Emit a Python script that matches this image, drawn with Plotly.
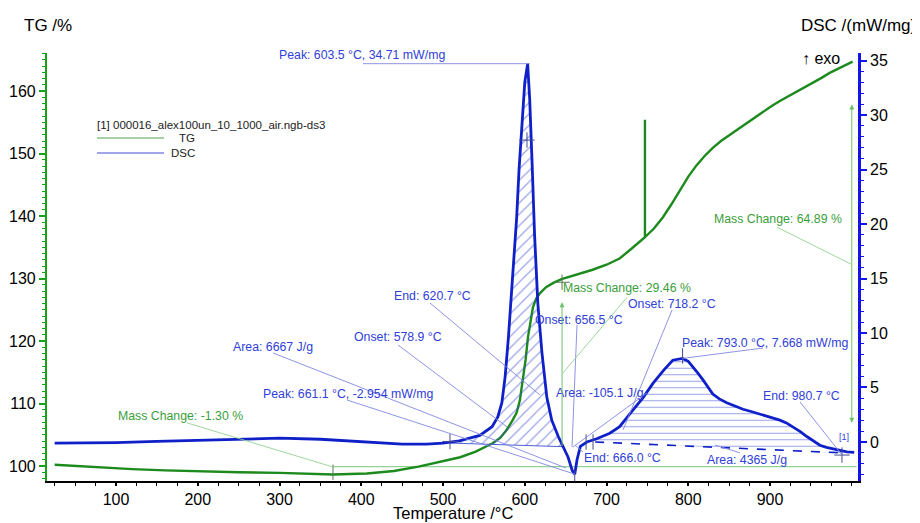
import numpy as np
import plotly.graph_objects as go

# ---------------- data ----------------
tg_T = [25, 50, 80, 120, 160, 203, 250, 300, 325, 365, 407, 440, 470, 500, 521, 540, 560, 570,
        578, 585, 590, 594, 598, 601, 604, 607, 610, 614, 619, 626, 635, 645, 655, 670, 683, 700,
        716, 729, 747, 747, 747, 758, 769, 780, 790, 800, 810, 820, 830, 840, 851, 862, 872, 882,
        891, 902, 912, 923, 933, 943, 953, 963, 973, 987, 1001]
tg = [100.2, 100.0, 99.7, 99.5, 99.3, 99.1, 99.0, 98.9, 98.85, 98.65, 98.8, 99.2, 99.9, 100.8,
      101.4, 102.3, 103.6, 104.5, 105.8, 107.3, 108.5, 110.5, 113.8, 117.0, 120.7, 123.3, 125.4,
      126.8, 127.7, 128.6, 129.3, 129.9, 130.3, 130.8, 131.4, 132.2, 133.2, 134.6, 136.6, 155.4,
      136.6, 138.0, 139.8, 142.0, 144.2, 146.3, 148.1, 149.6, 150.9, 152.0, 153.0, 154.0, 154.95,
      155.9, 156.7, 157.6, 158.4, 159.2, 159.9, 160.6, 161.3, 162.1, 162.9, 163.8, 164.7]

dsc_T = [25, 60, 100, 150, 200, 250, 300, 350, 400, 450, 480, 500, 520, 545, 560, 567, 572, 576,
         580, 584, 587, 590, 593, 597, 600, 603.5, 606, 609, 612, 616, 621, 627, 633, 641, 647, 653,
         658, 661.1, 664, 668, 676, 688, 704, 716, 732, 745, 757, 770, 781, 793, 800, 806, 812, 818,
         824, 830, 838, 847, 857, 867, 879, 891, 902, 912, 920, 928, 937, 945, 953, 961, 969, 977,
         986, 994, 1003]
dsc = [-0.1, -0.1, -0.05, 0.05, 0.15, 0.3, 0.35, 0.25, 0.0, -0.2, -0.2, -0.1, 0.1, 0.6, 1.4, 2.3,
       3.6, 6.0, 9.6, 14.2, 17.0, 20.5, 25.0, 29.5, 33.0, 34.71, 31.5, 25.5, 19.0, 12.7, 8.2, 4.1,
       2.0, 0.5, -0.4, -1.4, -2.6, -2.954, -1.6, -0.4, 0.0, 0.3, 0.8, 1.4, 2.9, 4.1, 5.4, 6.6, 7.5,
       7.668, 7.4, 6.9, 6.3, 5.7, 5.0, 4.4, 3.95, 3.6, 3.3, 3.0, 2.75, 2.5, 2.25, 2.0, 1.75, 1.4,
       0.95, 0.5, 0.1, -0.3, -0.5, -0.65, -0.8, -0.9, -0.95]

x_ticks = [100, 200, 300, 400, 500, 600, 700, 800, 900]
tg_ticks = [100, 110, 120, 130, 140, 150, 160]
dsc_ticks = [0, 5, 10, 15, 20, 25, 30, 35]

# integration areas: [start T, end T] and baseline values at both ends
area1_T = [508.5, 646.8]
area1_base = [-0.1, -0.43]
area2_T = [686.0, 989.0]
area2_base = [0.0, -1.0]

tg_ref_T = [365.4, 1006.0]
tg_ref = [99.9, 99.9]

mk_dsc_T = [508.5, 602.7, 661.1, 675.0, 683.5, 793.0, 988.0]
mk_dsc = [0.05, 27.7, -3.3, 0.0, 0.0, 7.9, -1.2]
mk_dsc_sym = ['cross-thin', 'cross-thin', 'line-ns', 'line-ns', 'line-ns', 'line-ns', 'cross-thin']
mk_tg_T = [365.4, 645.6]
mk_tg = [99.0, 129.4]

# ---------------- styles ----------------
FONT = "Liberation Sans, Arial, sans-serif"
TG_COL = "#1c8a1c"
DSC_COL = "#1020c8"
TXT_BLUE = "#3040d8"
LEAD_BLUE = "#8088e0"
TXT_GREEN = "#3a9e3a"
LEAD_GREEN = "#92d292"

# the page body has an 8px margin: the figure is drawn from (8, 8)
OFF = 8
W, H = 920 - OFF, 523 - OFF
PX_L, PX_R, PX_T, PX_B = 47, 858, 53, 481          # plot area in window pixels
L, R, T_, B = PX_L - OFF, 920 - PX_R, PX_T - OFF, 523 - PX_B
PW, PH = PX_R - PX_L, PX_B - PX_T


def paper(px, py):
    return (px - PX_L) / PW, (PX_B - py) / PH


def area_poly(bounds, base):
    Ta = np.array(dsc_T, dtype=float)
    Da = np.array(dsc, dtype=float)
    t0, t1 = bounds
    inner = (Ta > t0) & (Ta < t1)
    xs = [t0] + list(Ta[inner]) + [t1, t1, t0, t0]
    ys = ([float(np.interp(t0, Ta, Da))] + list(Da[inner]) +
          [float(np.interp(t1, Ta, Da)), base[1], base[0], float(np.interp(t0, Ta, Da))])
    return xs, ys


fig = go.Figure()

ax1, ay1 = area_poly(area1_T, area1_base)
fig.add_trace(go.Scatter(x=ax1, y=ay1, yaxis="y2", mode="lines", line=dict(width=0),
                         fill="toself", fillcolor="rgba(255,255,255,0)",
                         fillpattern=dict(shape="/", fgcolor="#3848d0", bgcolor="rgba(255,255,255,0)",
                                          size=8, solidity=0.16),
                         hoverinfo="skip", showlegend=False))
ax2, ay2 = area_poly(area2_T, area2_base)
fig.add_trace(go.Scatter(x=ax2, y=ay2, yaxis="y2", mode="lines", line=dict(width=0),
                         fill="toself", fillcolor="rgba(255,255,255,0)",
                         fillpattern=dict(shape="-", fgcolor="#3848d0", bgcolor="rgba(255,255,255,0)",
                                          size=6.5, solidity=0.16),
                         hoverinfo="skip", showlegend=False))
# baselines
fig.add_trace(go.Scatter(x=area1_T, y=area1_base, yaxis="y2", mode="lines",
                         line=dict(color="#5060d8", width=1), showlegend=False))
fig.add_trace(go.Scatter(x=area2_T, y=area2_base, yaxis="y2", mode="lines",
                         line=dict(color=DSC_COL, width=1.6, dash="dash"), showlegend=False))

# TG reference line
fig.add_trace(go.Scatter(x=tg_ref_T, y=tg_ref, yaxis="y", mode="lines",
                         line=dict(color=LEAD_GREEN, width=1.3), showlegend=False))

# main curves
fig.add_trace(go.Scatter(x=dsc_T, y=dsc, yaxis="y2", mode="lines", name="DSC",
                         line=dict(color=DSC_COL, width=2.8), showlegend=False))
fig.add_trace(go.Scatter(x=tg_T, y=tg, yaxis="y", mode="lines", name="TG",
                         line=dict(color=TG_COL, width=2.4), showlegend=False))

# event markers
fig.add_trace(go.Scatter(x=mk_dsc_T, y=mk_dsc, yaxis="y2", mode="markers",
                         marker=dict(symbol=mk_dsc_sym, size=11, color="#444c90",
                                     line=dict(width=1, color="#444c90")),
                         showlegend=False))
fig.add_trace(go.Scatter(x=mk_tg_T, y=mk_tg, yaxis="y", mode="markers",
                         marker=dict(symbol=["line-ns", "cross-thin"], size=11, color="#557755",
                                     line=dict(width=1, color="#557755")),
                         showlegend=False))

# ---------------- leader lines ----------------
shapes = []


def lead(x0, y0, x1, y1, yref="y2", color=LEAD_BLUE):
    shapes.append(dict(type="line", xref="x", yref=yref, x0=x0, y0=y0, x1=x1, y1=y1,
                       line=dict(color=color, width=0.9), layer="above"))


lead(402.1, 34.71, 606.0, 34.71)            # Peak 603.5
lead(484.1, 12.75, 618.6, 4.31)             # End 620.7
lead(444.9, 8.9, 578.3, 1.38)               # Onset 578.9
lead(292.0, 8.17, 650.4, -2.39)             # Area 6667
lead(382.6, 3.85, 661.1, -2.95)             # Peak 661.1
lead(663.9, 10.73, 657.8, -0.46)            # Onset 656.5
lead(780.1, 12.1, 720.2, 1.1)               # Onset 718.2
lead(749.5, 4.5, 659.0, -0.46)              # Area -105.1
lead(793.0, 7.668, 891.4, 8.62)             # Peak 793
lead(936.7, 3.67, 988.1, -1.19)             # End 980.7
lead(671.2, -0.92, 661.5, -0.28)            # End 666.0
lead(863.3, -1.0, 832.7, -0.28)             # Area 4365
lead(186.8, 106.9, 365.4, 99.84, yref="y", color=LEAD_GREEN)   # MC -1.30
lead(725.1, 127.0, 646.8, 114.9, yref="y", color=LEAD_GREEN)   # MC 29.46
lead(908.6, 138.2, 999.1, 132.3, yref="y", color=LEAD_GREEN)   # MC 64.89

# legend block lines (paper coords)
for py, col in [(138, TG_COL), (153, DSC_COL)]:
    x0, y0 = paper(97, py)
    x1, _ = paper(164, py)
    shapes.append(dict(type="line", xref="paper", yref="paper", x0=x0, y0=y0, x1=x1, y1=y0,
                       line=dict(color=col, width=0.8)))

# ---------------- annotations ----------------
ann = []


def label(text, x, y, yref="y2", color=TXT_BLUE, size=12.3):
    ann.append(dict(text=text, x=x, y=y, xref="x", yref=yref, xanchor="left", yanchor="middle",
                    showarrow=False, font=dict(family=FONT, size=size, color=color), borderpad=0))


label("Peak: 603.5 °C, 34.71 mW/mg", 298.2, 35.5)
label("End: 620.7 °C", 438.8, 13.4)
label("Onset: 578.9 °C", 389.9, 9.6)
label("Area: 6667 J/g", 241.9, 8.7)
label("Peak: 661.1 °C, -2.954 mW/mg", 278.6, 4.4)
label("Onset: 656.5 °C", 611.3, 11.2)
label("Onset: 718.2 °C", 725.0, 12.7)
label("Area: -105.1 J/g", 637.0, 4.5)
label("Peak: 793.0 °C, 7.668 mW/mg", 791.0, 9.1)
label("End: 980.7 °C", 890.0, 4.2)
label("[1]", 983.0, 0.45, size=9)
label("End: 666.0 °C", 671.0, -1.5)
label("Area: 4365 J/g", 821.7, -1.65)
label("Mass Change: -1.30 %", 101.2, 108.0, yref="y", color=TXT_GREEN)
label("Mass Change: 29.46 %", 645.6, 128.5, yref="y", color=TXT_GREEN)
label("Mass Change: 64.89 %", 830.0, 139.5, yref="y", color=TXT_GREEN)

# mass change arrows
ann.append(dict(x=645.6, y=126.2, ax=645.6, ay=103.0, xref="x", yref="y", axref="x", ayref="y",
                text="", showarrow=True, arrowhead=2, arrowsize=1, arrowwidth=1,
                arrowcolor="#6cc06c"))
ann.append(dict(x=1000.0, y=106.9, ax=1000.0, ay=158.1, xref="x", yref="y", axref="x", ayref="y",
                text="", showarrow=True, arrowhead=2, startarrowhead=2, arrowside="end+start",
                arrowsize=1, arrowwidth=1, arrowcolor="#6cc06c"))


def ptext(text, px, py, size, anchor="left", color="black"):
    x, y = paper(px, py)
    ann.append(dict(text=text, x=x, y=y, xref="paper", yref="paper", xanchor=anchor,
                    yanchor="middle", showarrow=False, borderpad=0,
                    font=dict(family=FONT, size=size, color=color)))


ptext("TG /%", 23, 25, 17)
ptext("DSC /(mW/mg)", 800, 25, 17)
ptext("Temperature /°C", 453, 513, 16.5, anchor="center")
ptext("↑ exo", 801, 58, 16)
ptext("[1] 000016_alex100un_10_1000_air.ngb-ds3", 96, 125, 11.5, color="#222222")
ptext("TG", 178, 138, 11.5, color="#222222")
ptext("DSC", 170, 153, 11.5, color="#222222")

fig.update_layout(
    width=W, height=H,
    margin=dict(l=L, r=R, t=T_, b=B, pad=0, autoexpand=False),
    paper_bgcolor="white", plot_bgcolor="white",
    font=dict(family=FONT, size=16, color="black"),
    showlegend=False,
    shapes=shapes,
    annotations=ann,
    xaxis=dict(range=[15.6, 1007.6], tickmode="array", tickvals=x_ticks, automargin=False,
               showline=True, linecolor="black", linewidth=1.5, mirror=False,
               ticks="outside", ticklen=3, tickwidth=1.5, tickcolor="black",
               minor=dict(tickmode="linear", tick0=0, dtick=25, ticks="outside", ticklen=3,
                          tickcolor="black", tickwidth=1.2),
               showgrid=False, zeroline=False, tickfont=dict(size=16)),
    yaxis=dict(range=[97.6, 166.08], tickmode="array", tickvals=tg_ticks, side="left",
               automargin=False,
               showline=True, linecolor="#1aa01a", linewidth=2.2,
               ticks="outside", ticklen=6, tickwidth=1.5, tickcolor="#1aa01a",
               minor=dict(tickmode="linear", tick0=0, dtick=1, ticks="outside", ticklen=3,
                          tickcolor="#1aa01a", tickwidth=1),
               showgrid=False, zeroline=False, tickfont=dict(size=16)),
    yaxis2=dict(range=[-3.58, 35.69], tickmode="array", tickvals=dsc_ticks, side="right",
                overlaying="y", automargin=False,
                showline=True, linecolor="#1414e6", linewidth=2.6,
                ticks="outside", ticklen=6, tickwidth=1.5, tickcolor="#1414e6",
                minor=dict(tickmode="linear", tick0=0, dtick=1, ticks="outside", ticklen=3,
                           tickcolor="#1414e6", tickwidth=1),
                showgrid=False, zeroline=False, tickfont=dict(size=16)),
)

fig.write_html("out.html")
